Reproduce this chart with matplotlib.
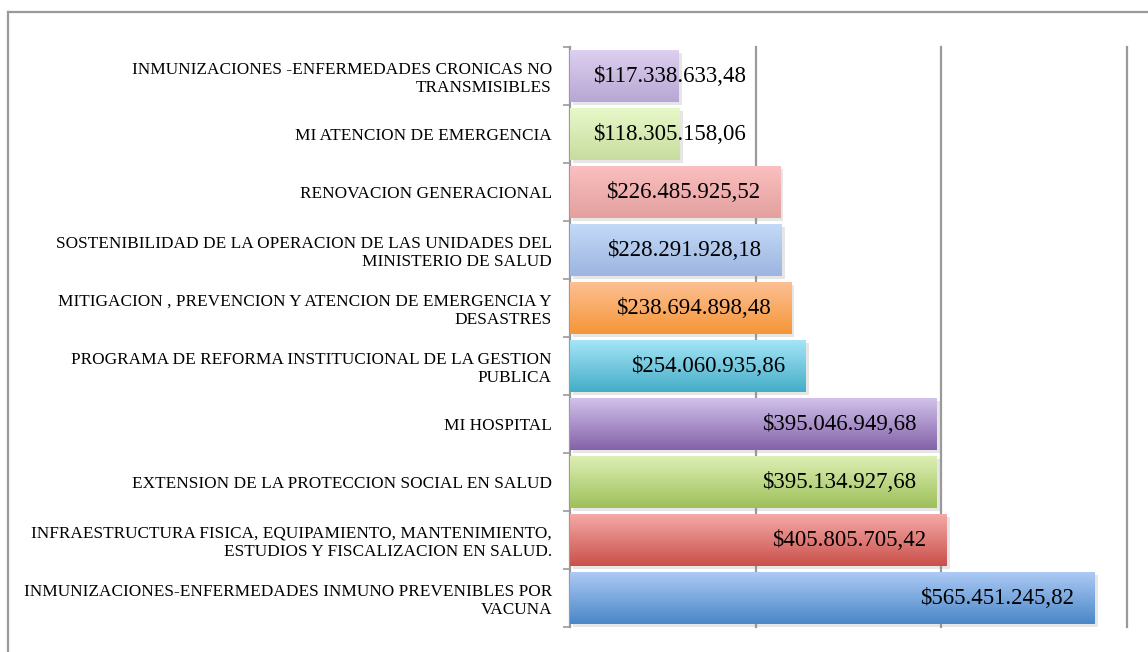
import numpy as np
import matplotlib
matplotlib.use("Agg")
import matplotlib.pyplot as plt
import matplotlib.patheffects as pe
from matplotlib.colors import to_rgb
from matplotlib.lines import Line2D

# datos (de abajo hacia arriba)
programas = [
    "INMUNIZACIONES-ENFERMEDADES INMUNO PREVENIBLES POR\nVACUNA",
    "INFRAESTRUCTURA FISICA, EQUIPAMIENTO, MANTENIMIENTO,\nESTUDIOS Y FISCALIZACION EN SALUD.",
    "EXTENSION DE LA PROTECCION SOCIAL EN SALUD",
    "MI HOSPITAL",
    "PROGRAMA DE REFORMA INSTITUCIONAL DE LA GESTION\nPUBLICA",
    "MITIGACION , PREVENCION Y ATENCION DE EMERGENCIA Y\nDESASTRES",
    "SOSTENIBILIDAD DE LA OPERACION DE LAS UNIDADES DEL\nMINISTERIO DE SALUD",
    "RENOVACION GENERACIONAL",
    "MI ATENCION DE EMERGENCIA",
    "INMUNIZACIONES -ENFERMEDADES CRONICAS NO\nTRANSMISIBLES",
]
montos = [565451245.82, 405805705.42, 395134927.68, 395046949.68, 254060935.86,
          238694898.48, 228291928.18, 226485925.52, 118305158.06, 117338633.48]

# degradado: color arriba, color abajo
color_arriba = ["#AECBF5", "#F6ABA9", "#DDF0B5", "#D2C3EC", "#A6E6F8",
                "#FDC094", "#C4DAF8", "#FAC0BF", "#E8F9C9", "#DED0F0"]
color_abajo = ["#4A87C8", "#C9504B", "#9EC05A", "#8462A8", "#45ADC8",
               "#F59638", "#9DB5E0", "#E3A09F", "#C8DC9F", "#B7A7D3"]


def formato(v):
    s = "{:,.2f}".format(v)
    s = s.replace(",", "X").replace(".", ",").replace("X", ".")
    return "$" + s


fig = plt.figure(figsize=(11.48, 6.52), dpi=100)
ax = fig.add_axes([570 / 1148, 1 - 627 / 652, (1127 - 570) / 1148, 580 / 652])

pos = np.arange(len(programas))
barras = ax.barh(pos, montos, height=0.9, color=color_abajo, zorder=2)

for i, b in enumerate(barras):
    b.set_path_effects([pe.SimplePatchShadow(offset=(2, -2), shadow_rgbFace="#909090", alpha=0.22),
                        pe.Normal()])
    c1 = np.array(to_rgb(color_arriba[i]))
    c2 = np.array(to_rgb(color_abajo[i]))
    t = np.linspace(0, 1, 64)[:, None]
    grad = (c1 * (1 - t) + c2 * t)[:, None, :]
    x0, y0 = b.get_x(), b.get_y()
    im = ax.imshow(grad, extent=(x0, x0 + b.get_width(), y0, y0 + b.get_height()),
                   origin="upper", aspect="auto", zorder=3)
    im.set_clip_path(b)

for i, v in enumerate(montos):
    if v < 200e6:
        ax.text(25e6, i, formato(v), ha="left", va="center", fontsize=16.5,
                family="Liberation Serif", color="black", zorder=5)
    else:
        ax.text(v - 22e6, i, formato(v), ha="right", va="center", fontsize=16.5,
                family="Liberation Serif", color="black", zorder=5)

ax.set_xlim(0, 600e6)
ax.set_ylim(-0.5, len(programas) - 0.5)

for g in [200e6, 400e6, 600e6]:
    ax.axvline(g, color="#9a9a9a", lw=1.6, zorder=1, clip_on=False)

ax.set_yticks(pos)
ax.set_yticklabels(programas, fontsize=12.4, family="Liberation Serif", ha="right",
                   linespacing=1.2)
ax.tick_params(axis="y", which="major", length=0, pad=13)
ax.set_yticks(np.arange(len(programas) + 1) - 0.5, minor=True)
ax.tick_params(axis="y", which="minor", length=5, width=1.2, color="#9a9a9a")
ax.set_xticks([])

for lado in ["top", "right", "bottom"]:
    ax.spines[lado].set_visible(False)
ax.spines["left"].set_color("#9a9a9a")
ax.spines["left"].set_linewidth(1.6)

# marco de la figura
fig.add_artist(Line2D([8 / 1148, 1], [1 - 12 / 652, 1 - 12 / 652], color="#9a9a9a", lw=1.6))
fig.add_artist(Line2D([8 / 1148, 8 / 1148], [0, 1 - 12 / 652], color="#9a9a9a", lw=1.6))

fig.savefig("out.png", dpi=100)
